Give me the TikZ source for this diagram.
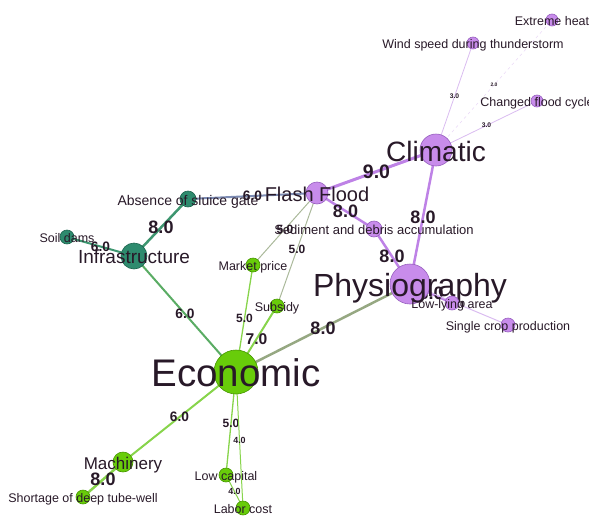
\documentclass[tikz,border=0pt]{standalone}
\usepackage{fontspec}
\setmainfont{Liberation Sans}
\usetikzlibrary{backgrounds}

\definecolor{vio}{RGB}{200,140,235}
\definecolor{vioD}{RGB}{150,95,190}
\definecolor{vioE}{RGB}{190,130,230}
\definecolor{vioL}{RGB}{218,188,240}
\definecolor{grn}{RGB}{104,204,10}
\definecolor{grnD}{RGB}{70,150,0}
\definecolor{grnE}{RGB}{135,212,75}
\definecolor{teal}{RGB}{46,139,110}
\definecolor{tealD}{RGB}{28,100,78}
\definecolor{tealE}{RGB}{62,150,112}
\definecolor{mixE}{RGB}{90,172,100}
\definecolor{greyE}{RGB}{150,168,130}
\definecolor{slateE}{RGB}{125,140,180}
\definecolor{ink}{RGB}{40,25,40}

\newcommand{\fsz}[1]{\fontsize{#1}{#1}\selectfont}

\tikzset{
  vnode/.style={circle, draw=vioD, fill=vio, line width=0.6pt, inner sep=0pt, minimum size=#1},
  gnode/.style={circle, draw=grnD, fill=grn, line width=0.6pt, inner sep=0pt, minimum size=#1},
  tnode/.style={circle, draw=tealD, fill=teal, line width=0.6pt, inner sep=0pt, minimum size=#1},
  every label/.style={text=ink, inner sep=0pt},
  lab/.style={font=\fsz{#1}, text depth=0pt, yshift=-1pt},
  wt/.style={font=\fsz{#1}\bfseries, text=ink, inner sep=0pt}
}

\begin{document}
\begin{tikzpicture}[x=1pt,y=-1pt]
\useasboundingbox (0,0) rectangle (589,517);

% purple part
\node[vnode=12] (heat) at (552,20) [label={[lab=12.5]center:Extreme heat}] {};
\node[vnode=12] (wind) at (473,43) [label={[lab=12.5]center:Wind speed during thunderstorm}] {};
\node[vnode=12] (cycle) at (537,101) [label={[lab=12.5]center:Changed flood cycle}] {};
\node[vnode=32] (clim) at (436,150) [label={[lab=28]center:Climatic}] {};
\node[vnode=22] (flash) at (317,193) [label={[lab=20]center:Flash Flood}] {};
\node[vnode=16] (sed) at (374,229) [label={[lab=13]center:Sediment and debris accumulation}] {};
\node[vnode=40] (phys) at (410,284) [label={[lab=32]center:Physiography}] {};
\node[vnode=14] (low) at (452,303) [label={[lab=12.5]center:Low-lying area}] {};
\node[vnode=14] (crop) at (508,325) [label={[lab=12.5]center:Single crop production}] {};

% teal part
\node[tnode=16] (sluice) at (188,199) [label={[lab=14]center:Absence of sluice gate}] {};
\node[tnode=14] (dams) at (67,237) [label={[lab=12.5]center:Soil dams}] {};
\node[tnode=26] (infra) at (134,256) [label={[lab=19]center:Infrastructure}] {};

% green part
\node[gnode=14] (market) at (253,265) [label={[lab=12.5]center:Market price}] {};
\node[gnode=14] (subsidy) at (277,306) [label={[lab=12.5]center:Subsidy}] {};
\node[gnode=44] (eco) at (236,372) [label={[lab=38.5]center:Economic}] {};
\node[gnode=20] (mach) at (123,462) [label={[lab=17]center:Machinery}] {};
\node[gnode=14] (capital) at (226,475) [label={[lab=12.5]center:Low capital}] {};
\node[gnode=14] (tube) at (83,497) [label={[lab=12.5]center:Shortage of deep tube-well}] {};
\node[gnode=14] (labor) at (243,508) [label={[lab=12.5]center:Labor cost}] {};

\begin{scope}[on background layer]
\draw[vioL!60, line width=0.5pt, dashed] (clim.center) -- node[wt=5]{2.0} (heat.center);
\draw[vioL, line width=0.8pt] (clim.center) -- node[wt=6.7]{3.0} (wind.center);
\draw[vioL, line width=0.8pt] (clim.center) -- node[wt=6.7]{3.0} (cycle.center);
\draw[vioE, line width=3pt] (clim.center) -- node[wt=19.5]{9.0} (flash.center);
\draw[vioE, line width=2.5pt] (clim.center) -- node[wt=18]{8.0} (phys.center);
\draw[vioE, line width=2.5pt] (flash.center) -- node[wt=18]{8.0} (sed.center);
\draw[vioE, line width=2.5pt] (sed.center) -- node[wt=18]{8.0} (phys.center);
\draw[vioE, line width=2.5pt] (phys.center) -- node[wt=18]{8.0} (low.center);
\draw[vioL, line width=1pt] (phys.center) -- node[wt=8.9]{4.0} (crop.center);
\draw[slateE, line width=2pt] (flash.center) -- node[wt=13.7]{6.0} (sluice.center);
\draw[tealE, line width=2.5pt] (sluice.center) -- node[wt=18]{8.0} (infra.center);
\draw[tealE, line width=2pt] (dams.center) -- node[wt=13.7]{6.0} (infra.center);
\draw[mixE, line width=2pt] (infra.center) -- node[wt=13.7]{6.0} (eco.center);
\draw[greyE!80, line width=1pt] (flash.center) -- node[wt=12]{5.0} (market.center);
\draw[greyE!80, line width=1pt] (flash.center) -- node[wt=12]{5.0} (subsidy.center);
\draw[grnE, line width=1.3pt] (market.center) -- node[wt=12]{5.0} (eco.center);
\draw[grnE, line width=2pt] (subsidy.center) -- node[wt=15.6]{7.0} (eco.center);
\draw[greyE, line width=2.5pt] (phys.center) -- node[wt=18]{8.0} (eco.center);
\draw[grnE, line width=2pt] (eco.center) -- node[wt=13.7]{6.0} (mach.center);
\draw[grnE, line width=2.5pt] (mach.center) -- node[wt=18]{8.0} (tube.center);
\draw[grnE, line width=1.3pt] (eco.center) -- node[wt=12]{5.0} (capital.center);
\draw[grnE, line width=1pt] (eco.center) -- node[wt=8.9]{4.0} (labor.center);
\draw[grnE, line width=1pt] (capital.center) -- node[wt=8.9]{4.0} (labor.center);
\end{scope}

\end{tikzpicture}
\end{document}
